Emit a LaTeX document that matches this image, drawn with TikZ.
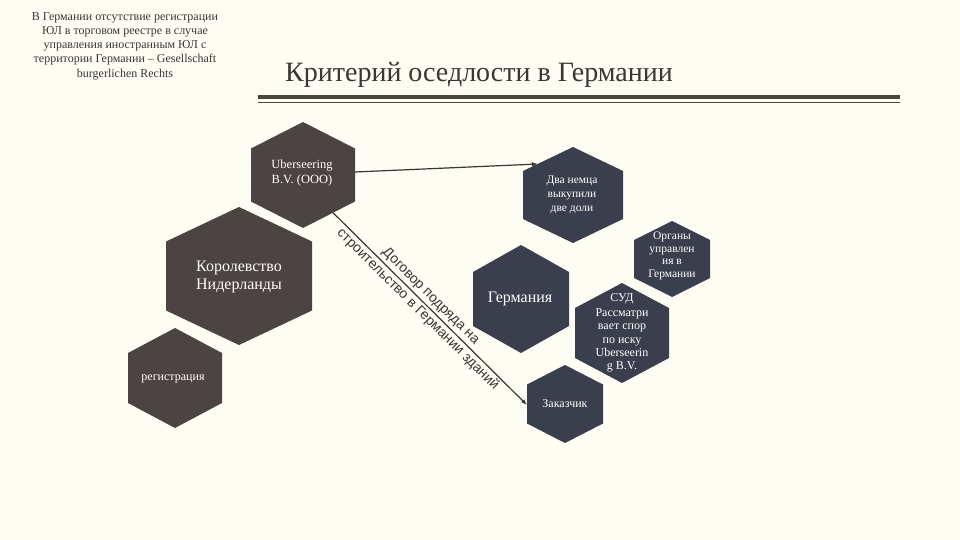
\documentclass[tikz,border=0pt]{standalone}
\usepackage{fontspec}
\setmainfont{Liberation Serif}
\newfontfamily\sansf{Liberation Sans}
\usetikzlibrary{arrows.meta}
\definecolor{bg}{RGB}{253,253,244}
\definecolor{hexbrown}{RGB}{76,68,67}
\definecolor{hexslate}{RGB}{59,62,76}
\definecolor{ink}{RGB}{58,54,50}
\definecolor{rule}{RGB}{74,68,58}
\newcommand{\hexcell}[5]{%
  \fill[#5] (#1,#2) ++(0,-#4) -- ++(#3,#4/2) -- ++(0,#4) -- ++(-#3,#4/2) -- ++(-#3,-#4/2) -- ++(0,-#4) -- cycle;}
\tikzset{
  hextext/.style={text=white, align=center, inner sep=0pt},
  conn/.style={draw=ink, line width=1.2pt, -{Latex[length=6pt,width=4.5pt]}},
  conntext/.style={font=\sansf\fontsize{14}{18.5}\selectfont, text=ink, align=center, sloped, inner sep=0pt}
}
\begin{document}
\begin{tikzpicture}[x=1pt,y=-1pt]
\useasboundingbox (0,0) rectangle (960,540);
\fill[bg] (0,0) rectangle (960,540);

% header
\node[align=center, text=ink, font=\fontsize{12}{14.3}\selectfont] (note) at (125,46)
  {В Германии отсутствие регистрации\\ЮЛ в торговом реестре в случае\\управления иностранным ЮЛ с\\территории Германии – Gesellschaft\\burgerlichen Rechts};
\node[anchor=west, text=ink, font=\fontsize{28}{32}\selectfont, inner sep=0pt] (title) at (285,75) {Критерий оседлости в Германии};
\draw[rule, line width=3.5pt] (258,97) -- (900,97);
\draw[rule, line width=1pt] (258,102.5) -- (900,102.5);

% hexagons
\hexcell{303}{175}{52}{53}{hexbrown}
\hexcell{573}{195}{50}{48}{hexslate}
\hexcell{672}{259}{38}{38}{hexslate}
\hexcell{239}{276}{73}{69}{hexbrown}
\hexcell{521}{299}{48}{54}{hexslate}
\hexcell{622}{333}{47}{50}{hexslate}
\hexcell{175}{378}{47}{50}{hexbrown}
\hexcell{565}{404}{38}{39}{hexslate}

% texts
\node[hextext, font=\fontsize{12.5}{15}\selectfont] (ub) at (302,173) {Uberseering\\B.V. (ООО)};
\node[hextext, font=\fontsize{11.5}{14}\selectfont] (dn) at (572,195) {Два немца\\выкупили\\две доли};
\node[hextext, font=\fontsize{11.5}{12.7}\selectfont] (org) at (672,256) {Органы\\управлен\\ия в\\Германии};
\node[hextext, font=\fontsize{16}{17.5}\selectfont] (nl) at (239,277) {Королевство\\Нидерланды};
\node[hextext, font=\fontsize{16}{17}\selectfont] (de) at (520,299) {Германия};
\node[hextext, font=\fontsize{12}{13.4}\selectfont] (sud) at (622,333) {СУД\\[1.5pt]Рассматри\\вает спор\\по иску\\Uberseerin\\g B.V.};
\node[hextext, font=\fontsize{12}{14}\selectfont] (reg) at (173,379) {регистрация};
\node[hextext, font=\fontsize{12}{14}\selectfont] (zk) at (565,404) {Заказчик};

% connectors
\coordinate (ubE) at (355,172);
\coordinate (ubSE) at (333,212.7);
\coordinate (dnNW) at (538,164);
\coordinate (zkW) at (527,405);
\draw[conn] (ubE) -- (dnNW);
\draw[conn] (ubSE) -- node[conntext, pos=0.47] {Договор подряда на\\строительство в Германии зданий} (zkW);
\end{tikzpicture}
\end{document}
